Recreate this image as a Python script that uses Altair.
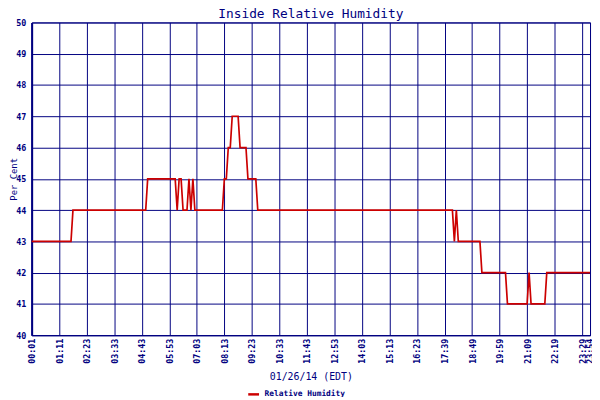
import altair as alt
import pandas as pd

# Line vertices: sample index (5-minute readings) and relative humidity (%)
sample_idx = [0, 20, 21, 58, 59, 73, 74, 75, 76, 77, 79, 80, 81, 82, 83,
              97, 98, 99, 100, 101, 102, 105, 106, 109, 110, 114, 115,
              214, 215, 216, 217, 228, 229, 241, 242, 252, 253, 254,
              261, 262, 284]
humidity = [43, 43, 44, 44, 45, 45, 44, 45, 45, 44, 44, 45, 44, 45, 44,
            44, 45, 45, 46, 46, 47, 47, 46, 46, 45, 45, 44,
            44, 43, 44, 43, 43, 42, 42, 41, 41, 42, 41,
            41, 42, 42]

tick_idx = [0, 14, 28, 42, 56, 70, 84, 98, 112, 126, 140, 154, 168, 182,
            196, 210, 224, 238, 252, 266, 280, 284]
tick_labels = ["00:01", "01:11", "02:23", "03:33", "04:43", "05:53", "07:03",
               "08:13", "09:23", "10:33", "11:43", "12:53", "14:03", "15:13",
               "16:23", "17:39", "18:49", "19:59", "21:09", "22:19", "23:29",
               "23:54"]

df = pd.DataFrame({"idx": sample_idx, "rh": humidity,
                   "series": ["Relative Humidity"] * len(sample_idx)})

NAVY = "#000080"
FONT = "DejaVu Sans Mono"

label_map = "{" + ",".join(f"'{i}':'{t}'" for i, t in zip(tick_idx, tick_labels)) + "}"
label_expr = label_map + "[''+datum.value]"

chart = alt.Chart(df).mark_line(strokeWidth=1.7, interpolate="linear").encode(
    x=alt.X("idx:Q",
            scale=alt.Scale(domain=[0, 284], nice=False, zero=False),
            axis=alt.Axis(values=tick_idx, labelExpr=label_expr,
                          title="01/26/14 (EDT)", labelAngle=270,
                          labelFont=FONT, labelFontSize=8.5, labelFontWeight="bold",
                          labelColor=NAVY, labelPadding=3, labelOverlap=False,
                          labelFlush=False, ticks=False,
                          titleFont=FONT, titleFontSize=10, titleFontWeight="normal",
                          titleColor=NAVY, titleBaseline="alphabetic", titleY=45,
                          grid=True, gridColor=NAVY, gridOpacity=1, gridWidth=1,
                          domainColor=NAVY, domainWidth=1)),
    y=alt.Y("rh:Q",
            scale=alt.Scale(domain=[40, 50], nice=False, zero=False),
            axis=alt.Axis(values=list(range(40, 51)), title="Per Cent",
                          labelFont=FONT, labelFontSize=8.5, labelFontWeight="bold",
                          labelColor=NAVY, labelPadding=6, ticks=False,
                          titleFont=FONT, titleFontSize=9, titleFontWeight="normal",
                          titleColor=NAVY, titleX=-18, titleBaseline="middle",
                          grid=True, gridColor=NAVY, gridOpacity=1, gridWidth=1,
                          domainColor=NAVY, domainWidth=2)),
    color=alt.Color("series:N",
                    scale=alt.Scale(range=["#cc0000"]),
                    legend=alt.Legend(title=None, orient="none", legendX=218,
                                      legendY=370, symbolType="stroke",
                                      symbolSize=120, symbolStrokeWidth=2.5,
                                      labelFont=FONT, labelFontSize=8,
                                      labelFontWeight="bold", labelColor=NAVY,
                                      padding=0)),
).properties(
    width=566,
    height=317,
    title=alt.TitleParams("Inside Relative Humidity", font=FONT, fontSize=13,
                          fontWeight="normal", color=NAVY, anchor="middle",
                          baseline="alphabetic", offset=3, dy=15),
    autosize=alt.AutoSizeParams(type="none"),
    padding={"left": 24, "top": 12, "right": 2, "bottom": 60},
).configure_view(stroke=NAVY, strokeWidth=1)

chart.save("out.html", embed_options={"renderer": "svg", "actions": False})
